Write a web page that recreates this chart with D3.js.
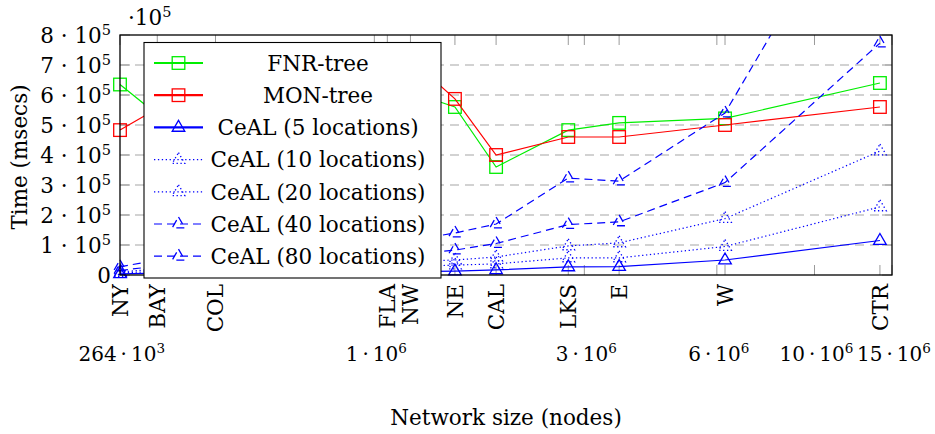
<!DOCTYPE html>
<html>
<head>
<meta charset="utf-8">
<script src="https://cdn.jsdelivr.net/npm/d3@7/dist/d3.min.js"></script>
<style>
  html, body { margin: 0; padding: 0; background: #fff; }
  svg { display: block; }
  text { font-family: "DejaVu Serif", "Liberation Serif", serif; fill: #000; }
</style>
</head>
<body>
<svg id="chart" width="935" height="434"></svg>
<script>
// Road networks and their sizes (nodes)
const networks = ["NY", "BAY", "COL", "FLA", "NW", "NE", "CAL", "LKS", "E", "W", "CTR"];
const networkSizes = [264346, 321270, 435666, 1070376, 1207945, 1524453, 1890815, 2758119, 3598623, 6262104, 14081816];

// Query times (msecs)
const fnrTree = [635000, 535000, 560000, 595000, 610000, 560000, 360000, 483000, 507000, 522000, 640000];
const monTree = [483000, 555000, 610000, 690000, 720000, 587000, 400000, 460000, 460000, 500000, 560000];
const ceal5   = [4000, 6000, 8000, 10000, 11000, 13000, 17000, 27000, 28000, 50000, 115000];
const ceal10  = [7000, 12000, 15000, 25000, 28000, 33000, 37000, 57000, 57000, 95000, 227000];
const ceal20  = [10000, 20000, 25000, 40000, 45000, 50000, 60000, 97000, 107000, 188000, 413000];
const ceal40  = [15000, 30000, 40000, 60000, 70000, 83000, 105000, 168000, 177000, 308000, 773000];
const ceal80  = [27000, 50000, 65000, 100000, 115000, 140000, 170000, 323000, 313000, 540000, 1420000];

// Axis ticks
const yTicks = [0, 100000, 200000, 300000, 400000, 500000, 600000, 700000, 800000];
const xTickValues = [264000, 1e6, 3e6, 6e6, 10e6, 15e6];
const xTickMantissa = ["264", "1", "3", "6", "10", "15"];
const xTickExponent = ["3", "6", "6", "6", "6", "6"];

const seriesNames = ["FNR-tree", "MON-tree", "CeAL (5 locations)", "CeAL (10 locations)",
                     "CeAL (20 locations)", "CeAL (40 locations)", "CeAL (80 locations)"];
const seriesValues = [fnrTree, monTree, ceal5, ceal10, ceal20, ceal40, ceal80];

const styles = [
  { color: "#00ee00", dash: null, mark: "square" },
  { color: "#ff0000", dash: null, mark: "square" },
  { color: "#0000ff", dash: null, mark: "triangle" },
  { color: "#0000ff", dash: "1.3,2.6", mark: "triangle" },
  { color: "#0000ff", dash: "1.3,2.6", mark: "triangle" },
  { color: "#0000ff", dash: "8,5", mark: "triangle" },
  { color: "#0000ff", dash: "8,5", mark: "triangle" }
];

const L = 120, R = 892, T = 35, B = 275;
const svg = d3.select("#chart");

const x = d3.scaleLog().domain([264346, 15e6]).range([L, R]);
const y = d3.scaleLinear().domain([0, 800000]).range([B, T]);

const fs = 21.5, sup = 14.5, supDy = -8;
const thin = "\u2009";

// horizontal grid
svg.append("g").selectAll("line").data(yTicks.slice(1, -1)).join("line")
  .attr("x1", L).attr("x2", R)
  .attr("y1", d => y(d)).attr("y2", d => y(d))
  .attr("stroke", "#c4c4c4").attr("stroke-width", 1.3).attr("stroke-dasharray", "9,6");

// tick marks (inward, all four sides)
const tickCol = "#9a9a9a", tl = 10;
const xTickAll = networkSizes.concat(xTickValues.slice(1));
const tg = svg.append("g").attr("stroke", tickCol).attr("stroke-width", 1);
tg.selectAll(".xb").data(xTickAll).join("line")
  .attr("x1", d => x(d)).attr("x2", d => x(d)).attr("y1", B).attr("y2", B - tl);
tg.selectAll(".xt").data(xTickAll).join("line")
  .attr("x1", d => x(d)).attr("x2", d => x(d)).attr("y1", T).attr("y2", T + tl);
tg.selectAll(".yl").data(yTicks).join("line")
  .attr("x1", L).attr("x2", L + tl).attr("y1", d => y(d)).attr("y2", d => y(d));
tg.selectAll(".yr").data(yTicks).join("line")
  .attr("x1", R).attr("x2", R - tl).attr("y1", d => y(d)).attr("y2", d => y(d));

// clip for data
svg.append("clipPath").attr("id", "plotclip").append("rect")
  .attr("x", L - 10).attr("y", T).attr("width", R - L + 20).attr("height", B - T + 10);

const line = d3.line().x((d, i) => x(networkSizes[i])).y(d => y(d));

function drawMark(g, type, cx, cy, st) {
  if (type === "square") {
    g.append("rect").attr("x", cx - 6.3).attr("y", cy - 6.3).attr("width", 12.6).attr("height", 12.6)
      .attr("fill", "none").attr("stroke", st.color).attr("stroke-width", 1.3)
      .attr("stroke-dasharray", st.dash);
  } else {
    const h = 7;
    g.append("path")
      .attr("d", `M${cx},${cy - h} L${cx + 6.3},${cy + h * 0.55} L${cx - 6.3},${cy + h * 0.55} Z`)
      .attr("fill", "none").attr("stroke", st.color).attr("stroke-width", 1.3)
      .attr("stroke-dasharray", st.dash);
  }
}

const plot = svg.append("g").attr("clip-path", "url(#plotclip)");
seriesValues.forEach((vals, k) => {
  const st = styles[k];
  const g = plot.append("g");
  g.append("path").datum(vals).attr("d", line)
    .attr("fill", "none").attr("stroke", st.color).attr("stroke-width", 1.2)
    .attr("stroke-dasharray", st.dash);
  vals.forEach((v, i) => {
    if (v <= 800000) drawMark(g, st.mark, x(networkSizes[i]), y(v), st);
  });
});

// frame
svg.append("rect").attr("x", L).attr("y", T).attr("width", R - L).attr("height", B - T)
  .attr("fill", "none").attr("stroke", "#000").attr("stroke-width", 1.3);

// y tick labels
const yl = svg.append("g");
yTicks.forEach(v => {
  const t = yl.append("text").attr("x", 111).attr("y", y(v)).attr("dy", "0.36em")
    .attr("text-anchor", "end").attr("font-size", fs);
  if (v === 0) { t.text("0"); return; }
  t.append("tspan").text(`${v / 100000} · 10`);
  t.append("tspan").attr("dy", supDy).attr("font-size", sup).text("5");
});
// common factor
const cf = svg.append("text").attr("x", 128).attr("y", 25).attr("font-size", fs);
cf.append("tspan").text("·10");
cf.append("tspan").attr("dy", supDy).attr("font-size", sup).text("5");

// category labels (rotated)
svg.append("g").selectAll("text").data(networks).join("text")
  .attr("transform", (d, i) => `translate(${x(networkSizes[i])},284) rotate(-90)`)
  .attr("text-anchor", "end").attr("dy", "0.36em").attr("font-size", fs)
  .text(d => d);

// numeric x tick labels
xTickValues.forEach((v, i) => {
  const t = svg.append("text").attr("x", x(v) + 2).attr("y", 361)
    .attr("text-anchor", "middle").attr("font-size", 20);
  t.append("tspan").text(`${xTickMantissa[i]}${thin}·${thin}10`);
  t.append("tspan").attr("dy", supDy).attr("font-size", 13.5).text(xTickExponent[i]);
});

// axis titles
svg.append("text").attr("x", 506).attr("y", 425).attr("text-anchor", "middle")
  .attr("font-size", fs).text("Network size (nodes)");
svg.append("text").attr("transform", "translate(27,157) rotate(-90)").attr("text-anchor", "middle")
  .attr("font-size", fs).text("Time (msecs)");

// legend
const lg = svg.append("g");
lg.append("rect").attr("x", 144).attr("y", 42.5).attr("width", 297).attr("height", 235.5)
  .attr("fill", "#fff").attr("stroke", "#000").attr("stroke-width", 1.1);
seriesNames.forEach((name, k) => {
  const st = styles[k];
  const ry = 63 + k * 32.2;
  lg.append("line").attr("x1", 154).attr("x2", 203).attr("y1", ry).attr("y2", ry)
    .attr("stroke", st.color).attr("stroke-width", k < 3 ? 2.2 : 1.2)
    .attr("stroke-dasharray", st.dash);
  drawMark(lg, st.mark, 178.5, ry, st);
  lg.append("text").attr("x", 318).attr("y", ry).attr("dy", "0.36em")
    .attr("text-anchor", "middle").attr("font-size", fs).text(name);
});
</script>
</body>
</html>
